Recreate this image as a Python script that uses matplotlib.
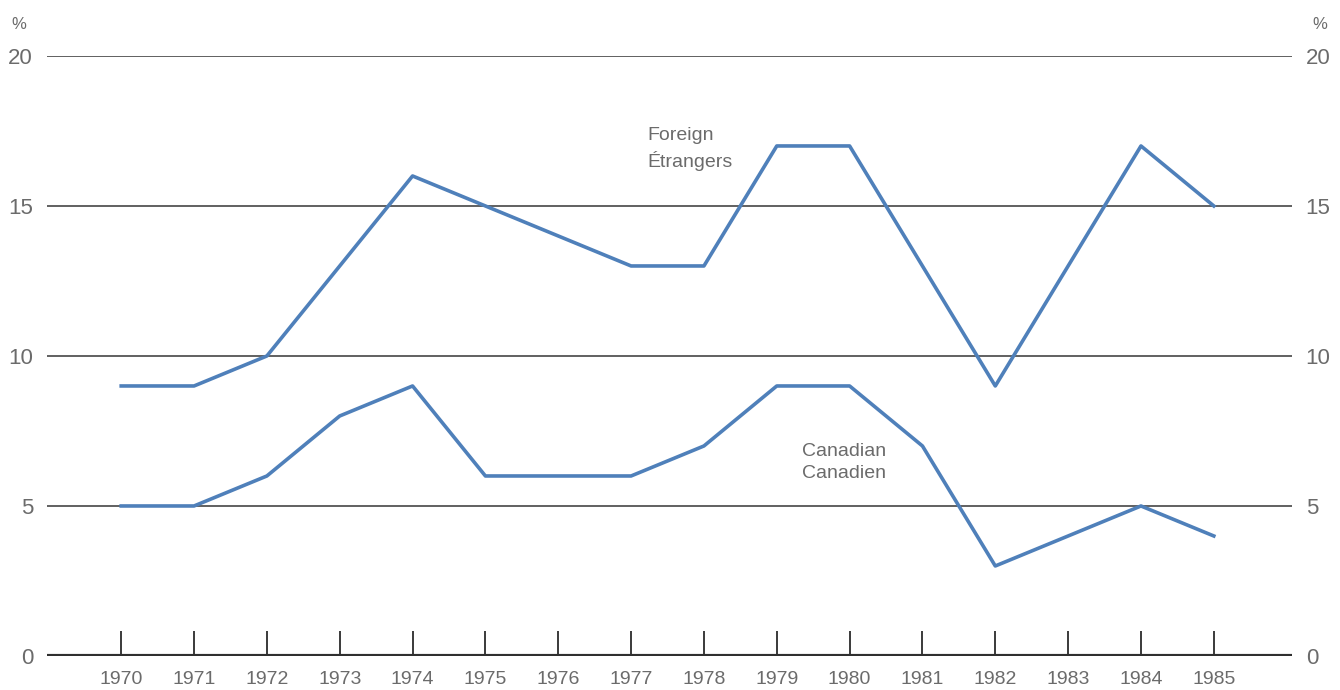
import matplotlib
matplotlib.use("Agg")
import matplotlib.pyplot as plt

plt.rcParams["font.family"] = ["Liberation Sans", "DejaVu Sans"]

years = list(range(1970, 1986))
foreign = [9, 9, 10, 13, 16, 15, 14, 13, 13, 17, 17, 13, 9, 13, 17, 15]
canadian = [5, 5, 6, 8, 9, 6, 6, 6, 7, 9, 9, 7, 3, 4, 5, 4]
y_ticks = [0, 5, 10, 15, 20]

line_color = "#4f80ba"
text_color = "#6b6b6b"
grid_color = "#454545"

fig = plt.figure(figsize=(13.4, 6.9), dpi=100)
ax = fig.add_axes([0.035, 0.0493, 0.929, 0.8696])

# horizontal grid lines
for v in y_ticks[1:]:
    ax.axhline(v, color=grid_color, lw=1.2, zorder=1)
ax.axhline(0, color="#2f2f2f", lw=3.0, zorder=2)

ax.plot(years, foreign, color=line_color, lw=2.6, zorder=3)
ax.plot(years, canadian, color=line_color, lw=2.6, zorder=3)

ax.set_xlim(1968.98, 1986.07)
ax.set_ylim(0, 20)

for s in ax.spines.values():
    s.set_visible(False)

ax.set_xticks(years)
ax.set_xticklabels([str(y) for y in years], fontsize=14, color=text_color)
ax.tick_params(axis="x", direction="in", length=18, width=1.4, color="#3a3a3a", pad=11)

ax.set_yticks(y_ticks)
ax.set_yticklabels([str(v) for v in y_ticks], fontsize=16, color=text_color)
ax.tick_params(axis="y", length=0, pad=10, labelright=True, labelleft=True)

# percent signs above the axes
ax.text(-0.0225, 1.045, "%", transform=ax.transAxes, fontsize=12, color=text_color, ha="center")
ax.text(1.0225, 1.045, "%", transform=ax.transAxes, fontsize=12, color=text_color, ha="center")

ax.text(1977.22, 16.9, "Foreign\nÉtrangers", fontsize=14, color=text_color,
        ha="left", va="center", linespacing=1.45)
ax.text(1979.35, 6.45, "Canadian\nCanadien", fontsize=14, color=text_color,
        ha="left", va="center", linespacing=1.45)

fig.savefig("out.png", dpi=100)
